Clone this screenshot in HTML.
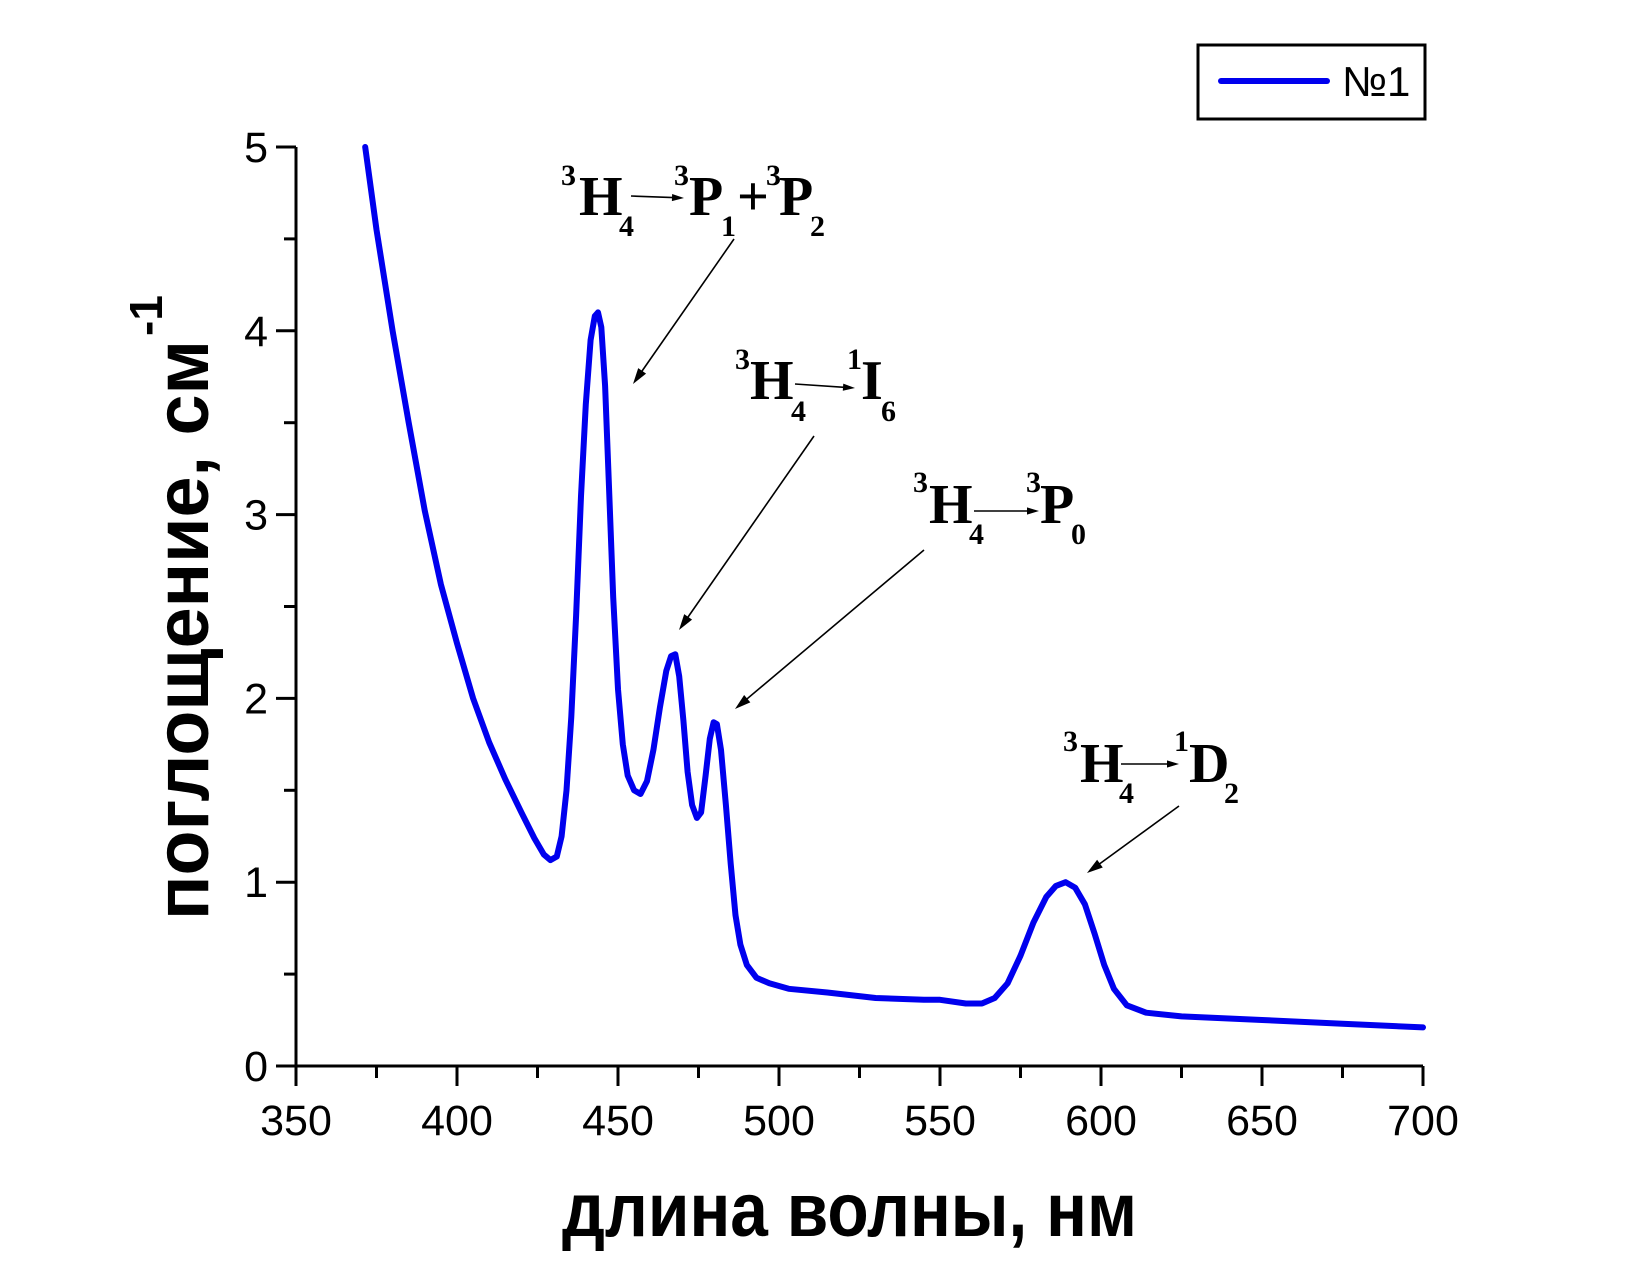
<!DOCTYPE html>
<html><head><meta charset="utf-8"><style>html,body{margin:0;padding:0;background:#fff}svg{display:block}</style></head>
<body>
<svg id="s" width="1650" height="1275" viewBox="0 0 1650 1275" xmlns="http://www.w3.org/2000/svg" font-family="Liberation Sans, sans-serif">
<rect width="1650" height="1275" fill="#fff"/>
<g id="axes" stroke="#000" stroke-width="3" fill="none"></g>
<g font-size="43" fill="#000" id="ticklabels"></g>
<polyline id="curve" fill="none" stroke="#0000ee" stroke-width="6" stroke-linejoin="round" stroke-linecap="round"/>
<!-- legend -->
<rect x="1198" y="45" width="227" height="74" fill="none" stroke="#000" stroke-width="3"/>
<line x1="1221" y1="81" x2="1327" y2="81" stroke="#0000ee" stroke-width="6" stroke-linecap="round"/>
<text x="1342" y="96" font-size="42">№1</text>
<!-- axis titles -->
<text x="562" y="1236" font-size="76" font-weight="bold" textLength="575" lengthAdjust="spacingAndGlyphs">длина волны, нм</text>
<g transform="translate(208,920) rotate(-90)">
<text x="0" y="0" font-size="76" font-weight="bold" textLength="580" lengthAdjust="spacingAndGlyphs">поглощение, см</text>
<text x="584" y="-46" font-size="46" font-weight="bold">-1</text>
</g>
<!-- annotations -->
<g font-family="Liberation Serif, serif" font-weight="bold" fill="#000">
<g font-size="56">
<text x="579" y="215">H</text><text x="689" y="215">P</text><text x="737" y="215">+</text><text x="779" y="215">P</text>
<text x="750" y="399">H</text><text x="861" y="399">I</text>
<text x="929" y="523">H</text><text x="1040" y="523">P</text>
<text x="1080" y="782">H</text><text x="1189" y="782">D</text>
</g>
<g font-size="30">
<text x="561" y="185">3</text><text x="619" y="236">4</text><text x="674" y="185">3</text><text x="721" y="236">1</text><text x="766" y="185">3</text><text x="810" y="236">2</text>
<text x="735" y="369">3</text><text x="791" y="421">4</text><text x="847" y="369">1</text><text x="881" y="421">6</text>
<text x="913" y="492">3</text><text x="969" y="544">4</text><text x="1026" y="492">3</text><text x="1071" y="544">0</text>
<text x="1063" y="751">3</text><text x="1119" y="803">4</text><text x="1174" y="751">1</text><text x="1224" y="803">2</text>
</g>
</g>
<g id="arrows" stroke="#000" stroke-width="1.6" fill="#000"></g>
<script>
(function(){
var NS="http://www.w3.org/2000/svg",s=document.getElementById('s');
function X(n){return 296+(n-350)*(1423-296)/350;}
function Y(v){return 1066-v*183.8;}
function el(p,tag,a,t){var e=document.createElementNS(NS,tag);for(var k in a)e.setAttribute(k,a[k]);if(t)e.textContent=t;p.appendChild(e);return e;}
var ax=document.getElementById('axes'),tl=document.getElementById('ticklabels');
el(ax,'path',{d:'M296,147 L296,1066 L1423,1066'});
for(var n=350;n<=700;n+=25){var maj=n%50==0;el(ax,'line',{x1:X(n),y1:1066,x2:X(n),y2:1066+(maj?20:12)});
 if(maj)el(tl,'text',{x:X(n),y:1135,'text-anchor':'middle'},String(n));}
for(var v=0;v<=5;v+=0.5){var maj=v%1==0;el(ax,'line',{x1:296,y1:Y(v),x2:296-(maj?20:12),y2:Y(v)});
 if(maj)el(tl,'text',{x:268,y:Y(v)+15,'text-anchor':'end'},String(v));}
var d=[[371.5,5.0],[375,4.55],[380,4.0],[385,3.5],[390,3.02],[395,2.62],[400,2.3],[405,2.0],[410,1.76],[415,1.56],[420,1.38],[424,1.24],[427,1.15],[429,1.12],[431,1.14],[432.5,1.25],[434,1.5],[435.5,1.9],[437,2.45],[438.5,3.1],[440,3.6],[441.5,3.95],[442.8,4.08],[443.8,4.1],[444.8,4.02],[446,3.7],[447.2,3.15],[448.5,2.55],[450,2.05],[451.5,1.75],[453,1.58],[455,1.5],[457,1.48],[459,1.55],[461,1.72],[463,1.95],[465,2.15],[466.5,2.23],[467.8,2.24],[469,2.12],[470.3,1.88],[471.6,1.6],[473,1.42],[474.5,1.35],[475.8,1.38],[477.2,1.58],[478.5,1.78],[479.7,1.87],[480.7,1.86],[482,1.72],[483.5,1.42],[485,1.1],[486.5,0.82],[488,0.66],[490,0.55],[493,0.48],[497,0.45],[503,0.42],[515,0.4],[530,0.37],[545,0.36],[550,0.36],[558,0.34],[563,0.34],[567,0.37],[571,0.45],[575,0.6],[579,0.78],[583,0.92],[586,0.98],[589,1.0],[592,0.97],[595,0.88],[598,0.72],[601,0.55],[604,0.42],[608,0.33],[614,0.29],[625,0.27],[650,0.25],[675,0.23],[700,0.21]];
document.getElementById('curve').setAttribute('points',d.map(function(p){return X(p[0]).toFixed(1)+','+Y(p[1]).toFixed(1)}).join(' '));
var ar=document.getElementById('arrows');
function arrow(x1,y1,x2,y2,h){var dx=x2-x1,dy=y2-y1,L=Math.sqrt(dx*dx+dy*dy),ux=dx/L,uy=dy/L;h=h||16;
 el(ar,'line',{x1:x1,y1:y1,x2:x2-ux*h*0.6,y2:y2-uy*h*0.6});
 var bx=x2-ux*h,by=y2-uy*h,w=h*0.3;
 el(ar,'polygon',{points:x2+','+y2+' '+(bx-uy*w)+','+(by+ux*w)+' '+(bx+uy*w)+','+(by-ux*w),stroke:'none'});}
arrow(734,239,633,384);arrow(814,436,679,630);arrow(924,550,735,709);arrow(1179,806,1087,873);
arrow(631,196,684,198,12);arrow(795,384,855,388,12);arrow(974,511,1039,511,12);arrow(1121,764,1179,764,12);
})();
</script>
</svg>
</body></html>
